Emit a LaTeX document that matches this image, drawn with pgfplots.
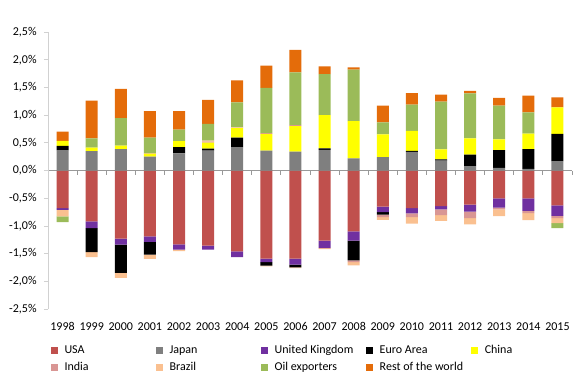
\documentclass[border=0pt]{standalone}
\usepackage{fontspec}
\setmainfont{Carlito}
\usepackage{pgfplots}
\pgfplotsset{compat=1.18}
\usepackage{pgfplotstable}

\definecolor{cUSA}{HTML}{C0504D}
\definecolor{cJPN}{HTML}{7F7F7F}
\definecolor{cUK}{HTML}{7030A0}
\definecolor{cEA}{HTML}{000000}
\definecolor{cCHN}{HTML}{FFFF00}
\definecolor{cIND}{HTML}{D99694}
\definecolor{cBRA}{HTML}{FAC090}
\definecolor{cOIL}{HTML}{9BBB59}
\definecolor{cROW}{HTML}{E46C0A}

% positive contributions
\pgfplotstableread{
x  USA JPN   UK  EA    CHN   IND   BRA   OIL   ROW
0  0   0.37  0   0.075 0.09  0     0     0     0.165
1  0   0.35  0   0     0.065 0     0     0.165 0.68
2  0   0.385 0   0     0.065 0     0     0.495 0.53
3  0   0.25  0   0     0.055 0.01  0     0.28  0.475
4  0   0.31  0   0.11  0.11  0     0     0.21  0.33
5  0   0.36  0   0.035 0.11  0.015 0.02  0.30  0.435
6  0   0.42  0   0.175 0.17  0     0.015 0.45  0.395
7  0   0.36  0   0     0.30  0.015 0     0.815 0.405
8  0   0.343 0   0     0.46  0.015 0     0.955 0.405
9  0   0.373 0   0.025 0.60  0     0     0.74  0.14
10 0   0.22  0   0     0.67  0     0     0.93  0.04
11 0   0.24  0   0     0.41  0     0     0.22  0.30
12 0   0.337 0   0.018 0.36  0     0     0.475 0.205
13 0   0.18  0   0.02  0.18  0     0     0.865 0.125
14 0   0.078 0   0.21  0.29  0     0     0.815 0.045
15 0   0.048 0   0.32  0.195 0     0     0.61  0.14
16 0   0.03  0   0.355 0.28  0     0     0.385 0.30
17 0   0.17  0   0.49  0.48  0     0     0     0.18
}\pos

% negative contributions
\pgfplotstableread{
x  USA    JPN UK     EA     CHN IND    BRA    OIL   ROW
0  -0.68  0   -0.03  0      0   0      -0.12  -0.10 0
1  -0.92  0   -0.12  -0.435 0   0      -0.09  0     0
2  -1.23  0   -0.11  -0.51  0   0      -0.09  0     0
3  -1.19  0   -0.10  -0.23  0   0      -0.075 0     0
4  -1.335 0   -0.095 0      0   0      -0.025 0     0
5  -1.355 0   -0.075 0      0   0      0      0     0
6  -1.46  0   -0.105 0      0   0      0      0     0
7  -1.59  0   -0.065 -0.06  0   0      -0.015 0     0
8  -1.59  0   -0.11  -0.05  0   0      -0.01  0     0
9  -1.264 0   -0.136 0      0   0      -0.02  0     0
10 -1.10  0   -0.164 -0.36  0   -0.03  -0.06  0     0
11 -0.65  0   -0.10  -0.045 0   -0.045 -0.05  0     0
12 -0.68  0   -0.095 0      0   -0.065 -0.12  0     0
13 -0.644 0   -0.056 0      0   -0.105 -0.105 0     0
14 -0.614 0   -0.13  0      0   -0.115 -0.115 0     0
15 -0.505 0   -0.165 0      0   -0.03  -0.125 0     0
16 -0.505 0   -0.225 0      0   -0.04  -0.125 0     0
17 -0.63  0   -0.19  0      0   -0.04  -0.09  -0.09 0
}\neg

\pgfplotsset{
  common/.style={
    scale only axis, width=393pt, height=207.75pt,
    xmin=-0.5, xmax=17.5, ymin=-2.5, ymax=2.5,
    ybar stacked, bar width=9pt,
    at={(0,0)}, anchor=south west,
    every axis plot/.append style={draw=none},
  },
}

\begin{document}
\begin{tikzpicture}
\useasboundingbox (-36pt,-53.25pt) rectangle (399.75pt,231.75pt);
% negative stack with zero line and legend
\begin{axis}[common,
  axis y line=none,
  axis x line=middle,
  x axis line style={-, color=black!40, line width=0.6pt},
  xtick={0.5,1.5,...,17.5}, xticklabels={},
  x tick style={color=black!40, line width=0.6pt},
  tick align=outside, major tick length=3pt,
  ytick=\empty,
  legend columns=5,
  legend style={draw=none, fill=none, at={(0,0)}, anchor=north west,
    xshift=2pt, yshift=-25pt, inner sep=0pt,
    font=\fontsize{9}{10}\selectfont,
    /tikz/every odd column/.append style={column sep=3pt},
    /tikz/every even column/.append style={column sep=0pt},
    row sep=1.2pt},
  legend image code/.code={\fill[#1] (0pt,-2.6pt) rectangle (5.2pt,2.6pt);},
]
\addplot[fill=cUSA] table[x=x,y=USA]{\neg};
\addplot[fill=cJPN] table[x=x,y=JPN]{\neg};
\addplot[fill=cUK]  table[x=x,y=UK]{\neg};
\addplot[fill=cEA]  table[x=x,y=EA]{\neg};
\addplot[fill=cCHN] table[x=x,y=CHN]{\neg};
\addplot[fill=cIND] table[x=x,y=IND]{\neg};
\addplot[fill=cBRA] table[x=x,y=BRA]{\neg};
\addplot[fill=cOIL] table[x=x,y=OIL]{\neg};
\addplot[fill=cROW] table[x=x,y=ROW]{\neg};
\legend{\makebox[66.6pt][l]{USA},\makebox[66.6pt][l]{Japan},\makebox[66.6pt][l]{United Kingdom},\makebox[66.6pt][l]{Euro Area},\makebox[66.6pt][l]{China},
  \makebox[66.6pt][l]{India},\makebox[66.6pt][l]{Brazil},\makebox[66.6pt][l]{Oil exporters},\makebox[66.6pt][l]{Rest of the world}}
\end{axis}
% positive stack with y axis and year labels
\begin{axis}[common,
  axis y line=left, axis x line=bottom,
  x axis line style={draw=none},
  y axis line style={-, color=black!18, line width=0.6pt},
  ytick={-2.5,-2,-1.5,-1,-0.5,0,0.5,1,1.5,2,2.5},
  yticklabels={{-2,5\%},{-2,0\%},{-1,5\%},{-1,0\%},{-0,5\%},{0,0\%},{0,5\%},{1,0\%},{1,5\%},{2,0\%},{2,5\%}},
  y tick style={color=black!18, line width=0.6pt},
  tick align=outside, major tick length=3pt,
  xtick={0,...,17},
  xticklabels={1998,1999,2000,2001,2002,2003,2004,2005,2006,2007,2008,2009,2010,2011,2012,2013,2014,2015},
  x tick style={draw=none},
  ticklabel style={font=\fontsize{9}{10}\selectfont},
  xticklabel style={yshift=-3.8pt},
  yticklabel style={xshift=-2pt},
]
\addplot[fill=cUSA] table[x=x,y=USA]{\pos};
\addplot[fill=cJPN] table[x=x,y=JPN]{\pos};
\addplot[fill=cUK]  table[x=x,y=UK]{\pos};
\addplot[fill=cEA]  table[x=x,y=EA]{\pos};
\addplot[fill=cCHN] table[x=x,y=CHN]{\pos};
\addplot[fill=cIND] table[x=x,y=IND]{\pos};
\addplot[fill=cBRA] table[x=x,y=BRA]{\pos};
\addplot[fill=cOIL] table[x=x,y=OIL]{\pos};
\addplot[fill=cROW] table[x=x,y=ROW]{\pos};
\end{axis}
\end{tikzpicture}
\end{document}
